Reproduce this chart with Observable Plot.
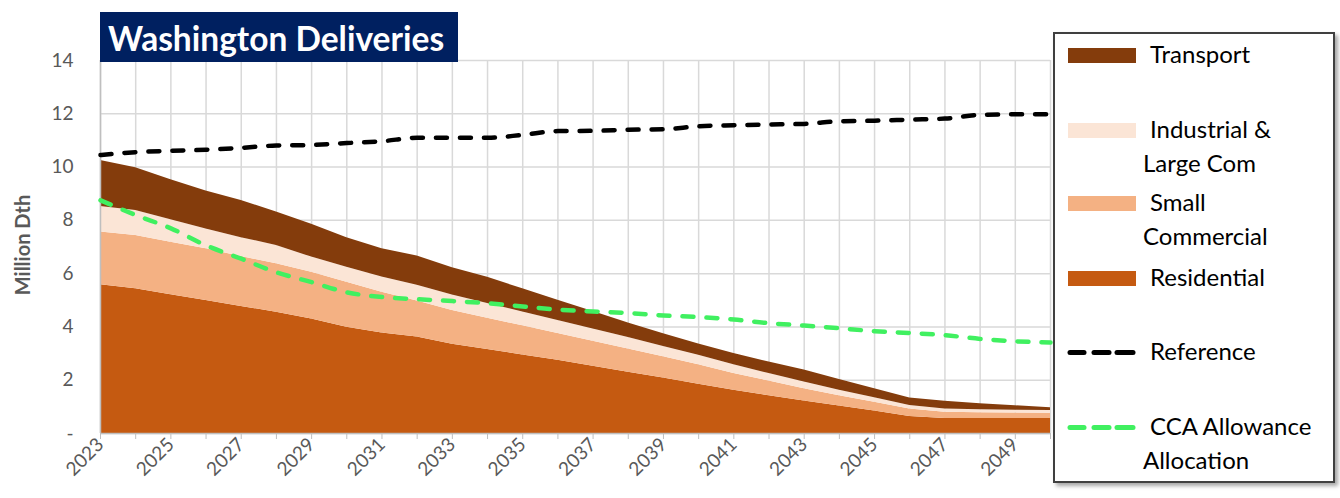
<!DOCTYPE html>
<html><head><meta charset="utf-8">
<script src="https://cdn.jsdelivr.net/npm/d3@7"></script>
<script src="https://cdn.jsdelivr.net/npm/@observablehq/plot@0.6"></script>
<style>
body{margin:0;background:#fff;font-family:Lato,"Open Sans",sans-serif;}
#wrap{position:relative;width:1340px;height:498px;overflow:hidden;background:#fff;}
#chart{position:absolute;left:0;top:0;}
#title{position:absolute;left:100px;top:12px;width:358px;height:50px;background:#002060;color:#fff;font-weight:bold;font-size:33.5px;line-height:52px;padding-left:8px;box-sizing:border-box;white-space:nowrap;overflow:hidden;}
#ylabel{position:absolute;left:22px;top:245px;transform:translate(-50%,-50%) rotate(-90deg);font-weight:bold;font-size:20px;color:#595959;white-space:nowrap;}
#legend{position:absolute;left:1053px;top:32px;width:282px;height:451px;border:2px solid #404040;box-sizing:border-box;background:#fff;box-shadow:3px 3px 4px rgba(0,0,0,0.35);}
#legend .sw{position:absolute;left:13px;width:68px;height:15px;}
#legend .tx{position:absolute;font-size:24px;color:#000;line-height:34px;white-space:nowrap;}
#legend svg{position:absolute;left:12px;}
</style></head><body>
<div id="wrap"><div id="chart"></div><div id="title">Washington Deliveries</div><div id="ylabel">Million Dth</div><div id="legend"></div></div>
<script>
const years = [2023,2024,2025,2026,2027,2028,2029,2030,2031,2032,2033,2034,2035,2036,2037,2038,2039,2040,2041,2042,2043,2044,2045,2046,2047,2048,2049,2050];
const labelYears = [2023,2025,2027,2029,2031,2033,2035,2037,2039,2041,2043,2045,2047,2049];
const yTicks = [0,2,4,6,8,10,12,14];

const residential = [5.58,5.43,5.21,4.99,4.77,4.55,4.30,3.99,3.77,3.62,3.35,3.15,2.95,2.75,2.52,2.30,2.08,1.85,1.62,1.42,1.22,1.03,0.84,0.64,0.56,0.56,0.56,0.56];
const smallCommercial = [1.98,2.00,1.97,1.94,1.87,1.82,1.75,1.69,1.53,1.35,1.27,1.18,1.09,1.00,0.94,0.87,0.80,0.73,0.63,0.55,0.46,0.39,0.33,0.28,0.24,0.22,0.21,0.20];
const industrial = [0.96,0.94,0.84,0.75,0.71,0.69,0.57,0.56,0.57,0.59,0.58,0.55,0.52,0.49,0.46,0.43,0.39,0.36,0.33,0.28,0.25,0.20,0.17,0.13,0.12,0.11,0.10,0.10];
const transport = [1.73,1.60,1.50,1.42,1.40,1.25,1.23,1.11,1.06,1.10,1.02,0.98,0.87,0.76,0.66,0.55,0.47,0.42,0.42,0.43,0.45,0.41,0.34,0.28,0.29,0.23,0.17,0.11];
const reference = [10.45,10.56,10.61,10.65,10.72,10.81,10.83,10.90,10.97,11.10,11.10,11.10,11.21,11.35,11.36,11.40,11.42,11.53,11.57,11.60,11.62,11.72,11.74,11.78,11.82,11.96,11.98,11.98];
const ccaAllocation = [8.75,8.20,7.70,7.06,6.56,6.05,5.68,5.30,5.12,5.04,4.97,4.89,4.77,4.65,4.58,4.52,4.43,4.37,4.28,4.14,4.05,3.95,3.84,3.77,3.69,3.55,3.46,3.42];

const seriesNames = ["Residential","Small Commercial","Industrial & Large Com","Transport"];
const seriesColors = ["#c55a11","#f4b183","#fbe5d6","#843c0c"];
const seriesValues = [residential, smallCommercial, industrial, transport];

const rows = [];
seriesNames.forEach((s,i) => years.forEach((yr,j) => rows.push({year: yr, series: s, value: seriesValues[i][j]})));
const lineRows = years.map((yr,j) => ({year: yr, reference: reference[j], cca: ccaAllocation[j]}));

const gridColor = "#d9d9d9";
const chart = Plot.plot({
  width: 1340, height: 498,
  marginLeft: 100, marginRight: 290, marginTop: 60, marginBottom: 65,
  x: {domain: [2023, 2050]},
  y: {domain: [0, 14]},
  color: {domain: seriesNames, range: seriesColors},
  style: {fontFamily: "Lato, 'Open Sans', sans-serif", fontSize: "19px", color: "#595959", background: "#fff"},
  marks: [
    Plot.gridX(years, {stroke: gridColor, strokeOpacity: 1, strokeWidth: 1.5}),
    Plot.gridY(yTicks, {stroke: gridColor, strokeOpacity: 1, strokeWidth: 1.5}),
    Plot.areaY(rows, {x: "year", y: "value", z: "series", fill: "series"}),
    Plot.ruleX([2023], {stroke: "#bfbfbf", strokeWidth: 1.5}),
    Plot.ruleY([0], {stroke: "#bfbfbf", strokeWidth: 1.5}),
    Plot.line(lineRows, {x: "year", y: "cca", stroke: "#40f060", strokeWidth: 4.5, strokeDasharray: "11,13", strokeLinecap: "round", curve: "monotone-x"}),
    Plot.line(lineRows, {x: "year", y: "reference", stroke: "#000", strokeWidth: 4.5, strokeDasharray: "11,13", strokeLinecap: "round", curve: "monotone-x"}),
    Plot.axisY(yTicks, {tickSize: 0, tickPadding: 27, tickFormat: d => d === 0 ? "-" : String(d), label: null, fill: "#595959", fontSize: 19}),
    Plot.axisX(years, {tickSize: 6, tickFormat: () => "", label: null, stroke: "#bfbfbf"}),
    Plot.axisX(labelYears, {tickSize: 0, tickPadding: 8, tickRotate: -45, tickFormat: d => String(d), label: null, fill: "#595959", fontSize: 19})
  ]
});
document.getElementById("chart").appendChild(chart);

// legend
const legendItems = [
  {kind: "box", color: "#843c0c", lines: ["Transport"], top: 14},
  {kind: "box", color: "#fbe5d6", lines: [" Industrial &", "Large Com"], top: 89},
  {kind: "box", color: "#f4b183", lines: [" Small", "Commercial"], top: 162},
  {kind: "box", color: "#c55a11", lines: ["Residential"], top: 237},
  {kind: "dash", color: "#000", lines: ["Reference"], top: 311},
  {kind: "dash", color: "#40f060", lines: [" CCA Allowance", "Allocation"], top: 386}
];
const lg = document.getElementById("legend");
legendItems.forEach(it => {
  if (it.kind === "box") {
    const s = document.createElement("div");
    s.className = "sw"; s.style.top = it.top + "px"; s.style.background = it.color;
    lg.appendChild(s);
  } else {
    const ns = "http://www.w3.org/2000/svg";
    const sv = document.createElementNS(ns, "svg");
    sv.setAttribute("width", 72); sv.setAttribute("height", 15);
    sv.style.top = it.top + "px";
    [[3,17],[27,42],[50,66]].forEach(([a,b]) => {
      const l = document.createElementNS(ns, "line");
      l.setAttribute("x1", a); l.setAttribute("x2", b); l.setAttribute("y1", 7.5); l.setAttribute("y2", 7.5);
      l.setAttribute("stroke", it.color); l.setAttribute("stroke-width", 5); l.setAttribute("stroke-linecap", "round");
      sv.appendChild(l);
    });
    lg.appendChild(sv);
  }
  it.lines.forEach((t, k) => {
    const d = document.createElement("div");
    d.className = "tx";
    d.textContent = t.trim();
    d.style.left = (t.startsWith(" ") || it.lines.length === 1 ? 95 : 88) + "px";
    d.style.top = (it.top + 7.5 - 19 + k * 34) + "px";
    lg.appendChild(d);
  });
});
</script>
</body></html>
